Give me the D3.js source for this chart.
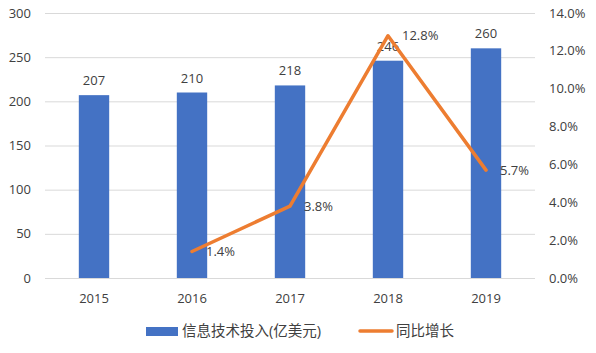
<!DOCTYPE html>
<html>
<head>
<meta charset="utf-8">
<script src="https://cdn.jsdelivr.net/npm/d3@7"></script>
<style>
  body { margin: 0; background: #fff; }
  svg text { font-family: "Open Sans", "Noto Sans CJK SC", sans-serif; fill: #404040; }
</style>
</head>
<body>
<div id="chart"></div>
<script>
const years = ['2015', '2016', '2017', '2018', '2019'];
const investment = [207, 210, 218, 246, 260];
const growth = [null, 1.4, 3.8, 12.8, 5.7];
const leftTicks = [0, 50, 100, 150, 200, 250, 300];
const rightTicks = [0, 2, 4, 6, 8, 10, 12, 14];
const seriesNames = ['信息技术投入(亿美元)', '同比增长'];

const width = 596, height = 353;
const margin = { left: 45, right: 61, top: 13, bottom: 75 };
const barColor = '#4472C4', lineColor = '#ED7D31';

const svg = d3.select('#chart').append('svg')
  .attr('width', width)
  .attr('height', height);

const x = d3.scaleBand()
  .domain(years)
  .range([margin.left, width - margin.right]);

const yLeft = d3.scaleLinear()
  .domain([0, 300])
  .range([height - margin.bottom, margin.top]);

const yRight = d3.scaleLinear()
  .domain([0, 14])
  .range([height - margin.bottom, margin.top]);

// gridlines
svg.append('g')
  .selectAll('line')
  .data(leftTicks)
  .join('line')
  .attr('x1', margin.left)
  .attr('x2', width - margin.right)
  .attr('y1', d => yLeft(d) + 0.5)
  .attr('y2', d => yLeft(d) + 0.5)
  .attr('stroke', '#d9d9d9')
  .attr('stroke-width', 1);

// left axis labels
svg.append('g')
  .selectAll('text')
  .data(leftTicks)
  .join('text')
  .attr('x', 31)
  .attr('y', d => yLeft(d))
  .attr('dy', '0.35em')
  .attr('text-anchor', 'end')
  .attr('font-size', '13px')
  .text(d => d);

// right axis labels
svg.append('g')
  .selectAll('text')
  .data(rightTicks)
  .join('text')
  .attr('x', 549)
  .attr('y', d => yRight(d))
  .attr('dy', '0.35em')
  .attr('font-size', '13px')
  .text(d => d.toFixed(1) + '%');

// x labels
svg.append('g')
  .selectAll('text')
  .data(years)
  .join('text')
  .attr('x', d => x(d) + x.bandwidth() / 2)
  .attr('y', 298)
  .attr('dy', '0.35em')
  .attr('text-anchor', 'middle')
  .attr('font-size', '13px')
  .text(d => d);

// bars
const barW = x.bandwidth() * 0.31;
svg.append('g')
  .selectAll('rect')
  .data(investment)
  .join('rect')
  .attr('x', (d, i) => x(years[i]) + x.bandwidth() / 2 - barW / 2)
  .attr('y', d => yLeft(d))
  .attr('width', barW)
  .attr('height', d => yLeft(0) - yLeft(d))
  .attr('fill', barColor);

svg.append('g')
  .selectAll('text')
  .data(investment)
  .join('text')
  .attr('x', (d, i) => x(years[i]) + x.bandwidth() / 2)
  .attr('y', d => yLeft(d) - 10)
  .attr('text-anchor', 'middle')
  .attr('font-size', '13px')
  .text(d => d);

// growth line
const pts = growth.map((v, i) => ({ year: years[i], v })).filter(d => d.v !== null);
const line = d3.line()
  .x(d => x(d.year) + x.bandwidth() / 2)
  .y(d => yRight(d.v));

svg.append('path')
  .datum(pts)
  .attr('d', line)
  .attr('fill', 'none')
  .attr('stroke', lineColor)
  .attr('stroke-width', 3.5)
  .attr('stroke-linecap', 'round')
  .attr('stroke-linejoin', 'round');

svg.append('g')
  .selectAll('text')
  .data(pts)
  .join('text')
  .attr('x', d => x(d.year) + x.bandwidth() / 2 + 14)
  .attr('y', d => yRight(d.v))
  .attr('dy', '0.35em')
  .attr('font-size', '13px')
  .text(d => d.v.toFixed(1) + '%');

// legend
const legend = svg.append('g');
legend.append('rect')
  .attr('x', 146).attr('y', 327)
  .attr('width', 32).attr('height', 9)
  .attr('fill', barColor);
legend.append('text')
  .attr('x', 182).attr('y', 331)
  .attr('dy', '0.35em')
  .attr('font-size', '14.5px')
  .text(seriesNames[0]);
legend.append('line')
  .attr('x1', 360).attr('x2', 392)
  .attr('y1', 331).attr('y2', 331)
  .attr('stroke', lineColor)
  .attr('stroke-width', 3.5)
  .attr('stroke-linecap', 'round');
legend.append('text')
  .attr('x', 396).attr('y', 331)
  .attr('dy', '0.35em')
  .attr('font-size', '14.5px')
  .text(seriesNames[1]);
</script>
</body>
</html>
